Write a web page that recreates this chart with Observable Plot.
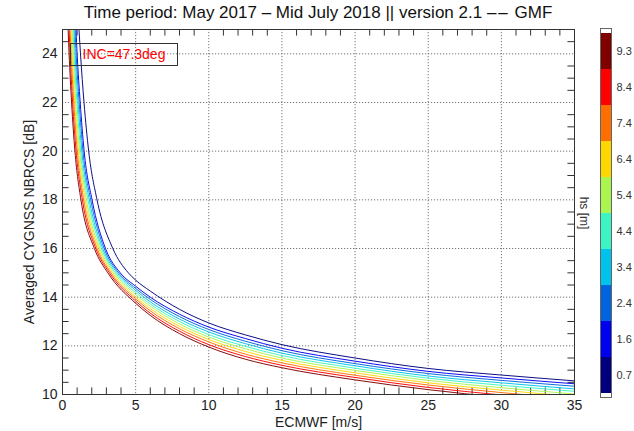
<!DOCTYPE html>
<html><head><meta charset="utf-8">
<script src="https://cdn.jsdelivr.net/npm/d3@7"></script>
<script src="https://cdn.jsdelivr.net/npm/@observablehq/plot@0.6"></script>
<style>
body{margin:0;background:#fff;font-family:"Liberation Sans",Arial,sans-serif;}
#wrap{position:relative;width:634px;height:431px;overflow:hidden;}
#title{height:25px;line-height:25px;text-align:center;font-size:17px;color:#111;width:636px;}
#title .dd{letter-spacing:2px;}
#main svg{display:block;}
#cbar{position:absolute;left:575px;top:0;}
#inc{position:absolute;left:70px;top:43px;width:106px;height:21px;border:1px solid #333;color:#f00;font-size:14px;line-height:21px;text-align:center;}
</style></head><body>
<div id="wrap"><div id="title"></div><div id="main"></div><div id="cbar"></div><div id="inc"></div></div>
<script>
const titleParts = ["Time period: May 2017 – Mid July 2018 || version 2.1 ", "––", " GMF"];
const xLabel = "ECMWF [m/s]";
const yLabel = "Averaged CYGNSS NBRCS [dB]";
const incLabel = "INC=47.3deg";
const cbarLabel = "hs [m]";
const hsLabels = ["0.7","1.6","2.4","3.4","4.4","5.4","6.4","7.4","8.4","9.3"];
const hsColors = ["#00007f","#0000f0","#0064dc","#00c3eb","#3cf5c3","#aaf550","#ffd700","#ff6e00","#ff0000","#800000"];
const xTicks = [0,5,10,15,20,25,30,35];
const yTicks = [10,12,14,16,18,20,22,24];
const xMinor = [1,2,3,4,6,7,8,9,11,12,13,14,16,17,18,19,21,22,23,24,26,27,28,29,31,32,33,34];
const yMinor = [10.5,11,11.5,12.5,13,13.5,14.5,15,15.5,16.5,17,17.5,18.5,19,19.5,20.5,21,21.5,22.5,23,23.5,24.5];
// steep part: x where each curve crosses these NBRCS levels
const steepLevels = [26,24,22,20,18,16,15];
const steepX = [
  [1.03,1.23,1.47,1.79,2.36,3.44,4.50],
  [0.85,1.00,1.21,1.48,2.02,2.94,3.95],
  [0.78,0.93,1.14,1.40,1.93,2.85,3.84],
  [0.72,0.86,1.06,1.32,1.83,2.75,3.74],
  [0.65,0.79,0.99,1.24,1.74,2.66,3.63],
  [0.59,0.73,0.91,1.17,1.64,2.56,3.53],
  [0.52,0.66,0.84,1.09,1.55,2.47,3.42],
  [0.45,0.59,0.77,1.01,1.45,2.37,3.31],
  [0.39,0.52,0.69,0.93,1.36,2.28,3.21],
  [0.32,0.45,0.62,0.85,1.26,2.18,3.10]
];
// flat part: NBRCS at these wind speeds
const flatX = [5,6,8,10,12.5,15,20,25,30,35];
const flatY = [
  [14.70,14.25,13.50,12.94,12.45,12.05,11.50,11.07,10.80,10.56],
  [14.45,14.00,13.30,12.77,12.30,11.90,11.37,10.95,10.68,10.44],
  [14.36,13.91,13.20,12.67,12.19,11.80,11.27,10.86,10.58,10.34],
  [14.28,13.81,13.10,12.57,12.09,11.70,11.18,10.76,10.48,10.23],
  [14.19,13.72,13.00,12.46,11.98,11.60,11.08,10.67,10.38,10.13],
  [14.10,13.63,12.90,12.36,11.88,11.50,10.99,10.58,10.28,10.02],
  [14.01,13.53,12.80,12.26,11.77,11.40,10.89,10.48,10.18,9.92],
  [13.93,13.44,12.70,12.16,11.66,11.30,10.79,10.39,10.08,9.81],
  [13.84,13.34,12.60,12.05,11.56,11.20,10.70,10.29,9.98,9.71],
  [13.75,13.25,12.50,11.95,11.45,11.10,10.60,10.20,9.88,9.60]
];

const t = document.getElementById("title");
titleParts.forEach((p, i) => {
  const s = document.createElement("span");
  if (i === 1) s.className = "dd";
  s.textContent = p;
  t.appendChild(s);
});
document.getElementById("inc").textContent = incLabel;

const lineData = hsLabels.flatMap((h, k) => [
  ...steepLevels.map((y, j) => ({k, x: steepX[k][j], y})),
  ...flatX.map((x, j) => ({k, x, y: flatY[k][j]}))
]);

const font = "Liberation Sans, Arial, sans-serif";
const main = Plot.plot({
  width: 634, height: 406,
  marginTop: 4, marginBottom: 37, marginLeft: 62, marginRight: 60,
  style: {fontFamily: font, color: "#222", background: "transparent"},
  x: {domain: [0, 35]},
  y: {domain: [10, 25]},
  color: {type: "identity"},
  marks: [
    Plot.gridX(xTicks.slice(1, -1), {stroke: "#666", strokeOpacity: 0.9, strokeDasharray: "1.2,1.8"}),
    Plot.gridY(yTicks.slice(1), {stroke: "#666", strokeOpacity: 0.9, strokeDasharray: "1.2,1.8"}),
    Plot.ruleX(xMinor, {x: d => d, y1: 10, y2: 10.27, stroke: "#333"}),
    Plot.ruleX(xMinor, {x: d => d, y1: 25, y2: 24.73, stroke: "#333"}),
    Plot.ruleY(yMinor, {y: d => d, x1: 0, x2: 0.45, stroke: "#333"}),
    Plot.ruleY(yMinor, {y: d => d, x1: 35, x2: 34.55, stroke: "#333"}),
    Plot.line(lineData, {x: "x", y: "y", z: "k", stroke: d => hsColors[d.k], strokeWidth: 0.95, curve: "monotone-x", clip: true}),
    Plot.frame({stroke: "#333"}),
    Plot.axisX(xTicks, {tickSize: 0, tickPadding: 6, fontSize: 14, label: null}),
    Plot.axisY(yTicks, {tickSize: 0, tickPadding: 5, fontSize: 14, label: null}),
    Plot.text([xLabel], {frameAnchor: "bottom", dy: 28, lineAnchor: "middle", textAnchor: "middle", fontSize: 14}),
    Plot.text([yLabel], {frameAnchor: "left", dx: -33, dy: 10, rotate: -90, textAnchor: "middle", lineAnchor: "middle", fontSize: 14})
  ]
});
document.getElementById("main").appendChild(main);

const cbar = Plot.plot({
  width: 59, height: 431,
  marginTop: 28, marginBottom: 34, marginLeft: 25, marginRight: 23,
  style: {fontFamily: font, color: "#333", background: "transparent"},
  y: {domain: hsLabels.slice().reverse(), type: "band", padding: 0},
  color: {type: "identity"},
  marks: [
    Plot.cell(hsLabels, {y: d => d, fill: (d, i) => hsColors[i]}),
    Plot.frame({stroke: "#666"}),
    Plot.axisY({anchor: "right", tickSize: 0, tickPadding: 5, fontSize: 11, label: null}),
    Plot.text([cbarLabel], {frameAnchor: "left", dx: -17, rotate: 90, textAnchor: "middle", lineAnchor: "middle", fontSize: 12})
  ]
});
document.getElementById("cbar").appendChild(cbar);
</script>
</body></html>
